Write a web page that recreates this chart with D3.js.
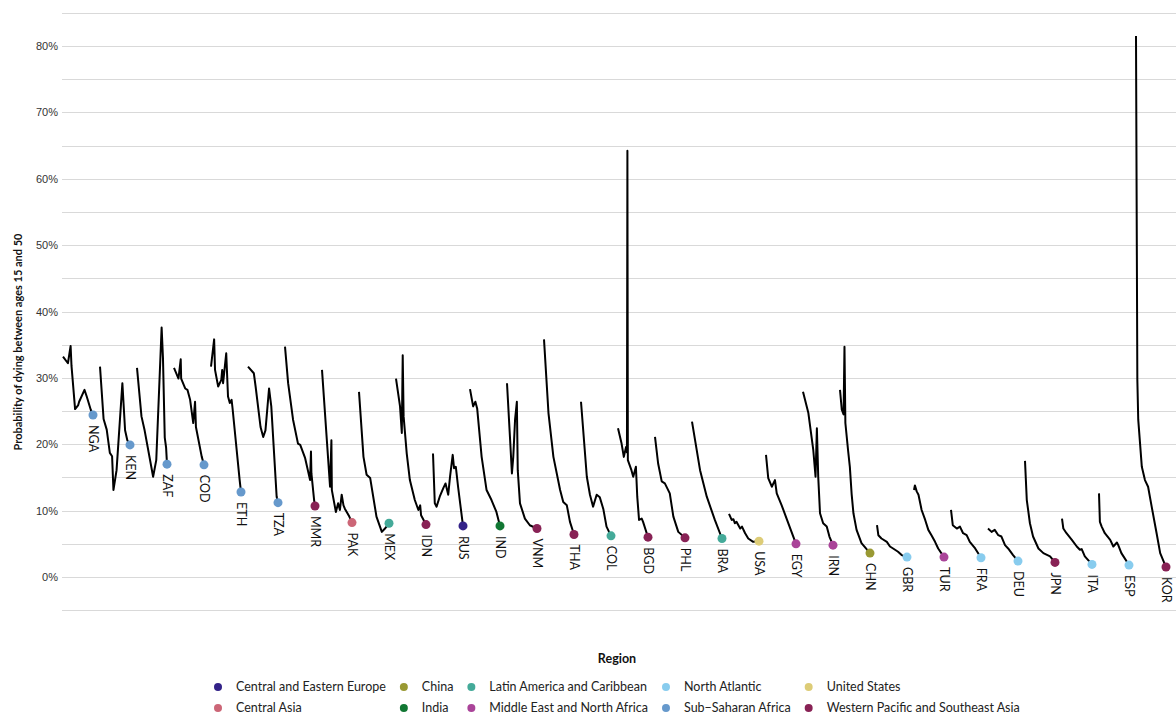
<!DOCTYPE html>
<html>
<meta charset="utf-8">
<head>
<style>
body { margin: 0; background: #fff; }
svg { font-family: Lato, "Open Sans", sans-serif; }
.grid line { stroke: #d9d9d9; stroke-width: 1; shape-rendering: crispEdges; }
.ytick { font-size: 11px; fill: #333; }
.ytitle { font-size: 11px; font-weight: bold; fill: #111; }
.cname { font-size: 12.5px; fill: #111; }
.legend text { font-size: 12.5px; fill: #222; }
.legend-title { font-size: 12.5px; font-weight: bold; fill: #111; }
</style>
</head>
<body>
<svg width="1176" height="720"></svg>

<script src="https://cdn.jsdelivr.net/npm/d3@7"></script>
<script>

// countries in chart order and the region each belongs to
var countries = ["NGA","KEN","ZAF","COD","ETH","TZA","MMR","PAK","MEX","IDN",
  "RUS","IND","VNM","THA","COL","BGD","PHL","BRA","USA","EGY",
  "IRN","CHN","GBR","TUR","FRA","DEU","JPN","ITA","ESP","KOR"];

var countryRegion = ["Sub-Saharan Africa","Sub-Saharan Africa","Sub-Saharan Africa","Sub-Saharan Africa",
  "Sub-Saharan Africa","Sub-Saharan Africa","Western Pacific and Southeast Asia","Central Asia",
  "Latin America and Caribbean","Western Pacific and Southeast Asia","Central and Eastern Europe","India",
  "Western Pacific and Southeast Asia","Western Pacific and Southeast Asia","Latin America and Caribbean",
  "Western Pacific and Southeast Asia","Western Pacific and Southeast Asia","Latin America and Caribbean",
  "United States","Middle East and North Africa","Middle East and North Africa","China","North Atlantic",
  "Middle East and North Africa","North Atlantic","North Atlantic","Western Pacific and Southeast Asia",
  "North Atlantic","North Atlantic","Western Pacific and Southeast Asia"];

var regions = ["Central and Eastern Europe","Central Asia","China","India","Latin America and Caribbean",
  "Middle East and North Africa","North Atlantic","Sub-Saharan Africa","United States",
  "Western Pacific and Southeast Asia"];
var regionLabels = ["Central and Eastern Europe","Central Asia","China","India","Latin America and Caribbean",
  "Middle East and North Africa","North Atlantic","Sub\u2212Saharan Africa","United States",
  "Western Pacific and Southeast Asia"];
var regionColors = ["#332288","#cc6677","#999933","#117733","#44aa99",
  "#aa4499","#88ccee","#6699cc","#ddcc77","#882255"];

// probability (%) of dying between 15 and 50, [year, value]
var nga = [[1950,33.2],[1961,32.2],[1967,34.8],[1969,31.8],[1977,25.3],[1984,25.9],[1986,26.4],[1998,28.2],[2003,27.2],[2012,25.2],[2017,24.4]];
var ken = [[1950,31.7],[1958,23.8],[1965,22.2],[1972,18.7],[1977,18.2],[1980,13.1],[1987,16.1],[2000,29.2],[2006,22.1],[2011,20.6],[2017,19.9]];
var zaf = [[1950,31.5],[1960,24.2],[1967,22.1],[1986,15.1],[1993,17.6],[2005,37.6],[2008,33.0],[2012,21.0],[2015,19.5],[2017,17.0]];
var cod = [[1950,31.5],[1960,29.9],[1965,32.8],[1966,29.9],[1975,28.4],[1980,28.2],[1986,26.7],[1993,23.2],[1997,26.4],[1999,22.6],[2012,18.1],[2017,16.9]];
var eth = [[1950,31.7],[1957,35.8],[1959,31.2],[1966,28.7],[1973,29.7],[1975,31.2],[1977,29.2],[1984,33.7],[1988,27.2],[1992,26.2],[1996,26.7],[1998,25.5],[2014,14.6],[2017,12.8]];
var tza = [[1950,31.7],[1963,30.7],[1967,28.7],[1978,22.6],[1984,21.1],[1989,22.1],[1997,28.4],[2002,25.7],[2014,12.1],[2017,11.2]];
var mmr = [[1950,34.7],[1957,29.2],[1968,23.7],[1979,20.1],[1984,19.9],[1995,17.9],[2006,14.6],[2008,18.9],[2009,15.6],[2015,11.6],[2017,10.7]];
var pak = [[1950,31.2],[1968,13.6],[1971,20.6],[1972,13.1],[1981,9.8],[1986,11.1],[1990,10.1],[1994,12.4],[1998,10.8],[2001,10.3],[2011,9.1],[2017,8.2]];
var mex = [[1950,27.9],[1960,18.1],[1967,15.4],[1975,14.9],[1989,9.1],[2001,6.8],[2008,7.3],[2017,8.1]];
var idn = [[1950,29.9],[1959,25.7],[1963,21.7],[1965,33.4],[1967,24.2],[1974,18.6],[1981,14.6],[1992,11.6],[2000,10.1],[2004,10.8],[2006,9.3],[2017,7.9]];
var rus = [[1950,18.6],[1954,11.1],[1958,10.6],[1965,12.1],[1973,13.4],[1978,14.1],[1984,12.4],[1988,15.1],[1994,18.4],[1997,16.4],[2001,16.6],[2006,13.6],[2017,7.7]];
var ind = [[1950,28.3],[1957,25.7],[1962,26.4],[1966,25.4],[1976,18.1],[1987,13.1],[1998,11.6],[2009,9.8],[2017,7.7]];
var vnm = [[1950,29.2],[1957,20.6],[1961,15.6],[1964,18.1],[1968,23.7],[1972,26.4],[1974,16.1],[1979,11.1],[1990,8.8],[2001,7.8],[2017,7.3]];
var tha = [[1950,35.8],[1960,24.7],[1971,18.1],[1986,13.1],[1993,11.3],[2001,10.8],[2008,8.3],[2017,6.4]];
var col = [[1950,26.4],[1963,15.1],[1970,12.4],[1977,10.6],[1985,12.4],[1992,12.0],[2000,10.2],[2007,7.6],[2017,6.2]];
var bgd = [[1950,22.4],[1958,20.1],[1963,18.1],[1968,19.6],[1970,18.8],[1971,64.2],[1972,17.6],[1980,16.1],[1984,15.1],[1990,16.6],[1993,12.1],[1997,8.6],[2003,8.8],[2006,8.3],[2017,6.0]];
var phl = [[1950,21.1],[1957,17.1],[1965,14.4],[1972,14.1],[1983,12.6],[1991,9.1],[2002,6.8],[2017,5.9]];
var bra = [[1950,23.4],[1968,16.1],[1983,12.1],[2001,8.6],[2017,5.8]];
var usa = [[1950,9.5],[1956,8.6],[1960,8.7],[1963,8.1],[1967,8.3],[1975,7.3],[1979,7.6],[1986,6.6],[1993,5.8],[2004,5.3],[2017,5.4]];
var egy = [[1950,18.4],[1955,14.9],[1963,13.6],[1970,14.6],[1974,12.6],[1985,10.8],[1996,8.8],[2007,6.8],[2017,5.0]];
var irn = [[1950,27.9],[1962,24.7],[1973,19.1],[1978,15.1],[1981,22.4],[1984,15.1],[1988,9.6],[1995,8.1],[2003,7.6],[2009,6.1],[2017,4.8]];
var chn = [[1950,28.2],[1954,25.2],[1958,24.5],[1960,34.7],[1962,23.2],[1968,19.1],[1972,16.6],[1976,12.5],[1980,9.6],[1987,7.1],[1998,5.1],[2017,3.6]];
var gbr = [[1950,7.8],[1953,6.3],[1960,5.8],[1972,5.3],[1979,4.6],[1986,4.3],[1997,3.8],[2005,3.3],[2017,3.0]];
var tur = [[1950,13.1],[1952,13.8],[1956,12.9],[1960,12.4],[1967,10.1],[1975,8.6],[1982,7.1],[1989,6.3],[1997,5.3],[2004,4.3],[2017,3.0]];
var fra = [[1950,10.1],[1954,7.8],[1963,7.3],[1970,7.6],[1977,6.6],[1985,6.3],[1992,5.3],[2004,4.3],[2017,2.9]];
var deu = [[1950,7.3],[1958,6.8],[1965,7.1],[1973,6.3],[1980,6.1],[1988,4.8],[1995,4.3],[2006,3.3],[2017,2.4]];
var jpn = [[1950,17.5],[1954,11.6],[1961,8.1],[1968,6.1],[1980,4.3],[1991,3.6],[2006,3.1],[2017,2.2]];
var ita = [[1950,8.8],[1953,7.3],[1960,6.6],[1972,5.6],[1983,4.6],[1990,4.1],[1994,4.2],[2001,3.1],[2017,1.9]];
var esp = [[1950,12.6],[1952,8.3],[1956,7.6],[1963,6.6],[1975,5.6],[1982,4.6],[1990,5.2],[1993,4.8],[2000,3.6],[2017,1.8]];
var kor = [[1950,81.5],[1953,29.7],[1955,23.7],[1963,16.6],[1970,14.6],[1977,13.6],[1985,10.6],[1996,6.6],[2004,3.6],[2017,1.5]];

var series = [nga,ken,zaf,cod,eth,tza,mmr,pak,mex,idn,rus,ind,vnm,tha,col,
  bgd,phl,bra,usa,egy,irn,chn,gbr,tur,fra,deu,jpn,ita,esp,kor];

var yTicks = [0,10,20,30,40,50,60,70,80];

var svg = d3.select("svg"),
  plotLeft = 62,
  plotRight = 1176;

var y = d3.scaleLinear().domain([-5, 85]).range([610.2, 12.8]);
var x = d3.scaleBand().domain(countries).range([63, 1166]).paddingInner(7 / 37);
var yr = d3.scaleLinear().domain([1950, 2017]).range([0, x.bandwidth()]);
var color = d3.scaleOrdinal().domain(regions).range(regionColors);

// gridlines every 5%
svg.append("g").attr("class", "grid")
  .selectAll("line")
  .data(d3.range(-5, 90, 5))
  .enter().append("line")
  .attr("x1", plotLeft).attr("x2", plotRight)
  .attr("y1", function(d) { return Math.round(y(d)) + 0.5; })
  .attr("y2", function(d) { return Math.round(y(d)) + 0.5; });

// y axis labels
var yAxis = d3.axisLeft(y).tickValues(yTicks).tickSize(0).tickPadding(4)
  .tickFormat(function(d) { return d + "%"; });
var yg = svg.append("g").attr("transform", "translate(" + plotLeft + ",0)").call(yAxis);
yg.select(".domain").remove();
yg.selectAll("text").attr("class", "ytick").attr("font-family", null).attr("font-size", null).attr("fill", null);

svg.append("text")
  .attr("class", "ytitle")
  .attr("transform", "translate(22,342) rotate(-90)")
  .attr("text-anchor", "middle")
  .text("Probability of dying between ages 15 and 50");

// one small line per country
var line = d3.line()
  .x(function(d) { return yr(d[0]); })
  .y(function(d) { return y(d[1]); });

var cell = svg.append("g").selectAll("g")
  .data(countries)
  .enter().append("g")
  .attr("transform", function(d) { return "translate(" + x(d) + ",0)"; });

cell.append("path")
  .attr("d", function(d, i) { return line(series[i]); })
  .attr("fill", "none")
  .attr("stroke", "#000")
  .attr("stroke-width", 2)
  .attr("stroke-linejoin", "round");

cell.append("circle")
  .attr("cx", function(d, i) { var s = series[i]; return yr(s[s.length - 1][0]); })
  .attr("cy", function(d, i) { var s = series[i]; return y(s[s.length - 1][1]); })
  .attr("r", 4.5)
  .attr("fill", function(d, i) { return color(countryRegion[i]); });

cell.append("text")
  .attr("class", "cname")
  .attr("transform", function(d, i) {
    var s = series[i], last = s[s.length - 1];
    return "translate(" + (yr(last[0]) - 4) + "," + (y(last[1]) + 10) + ") rotate(90)";
  })
  .text(function(d) { return d; });

// legend
svg.append("text")
  .attr("class", "legend-title")
  .attr("x", 617).attr("y", 663)
  .attr("text-anchor", "middle")
  .text("Region");

var legend = svg.append("g").attr("class", "legend");
var items = legend.selectAll("g")
  .data(regions)
  .enter().append("g");

items.append("circle")
  .attr("r", 4)
  .attr("fill", function(d) { return color(d); });
items.append("text")
  .attr("x", 18)
  .attr("dy", "0.35em")
  .text(function(d, i) { return regionLabels[i]; });

// column-major layout, two rows, first dot at x = 218
var colX = 218, colStarts = [];
for (var c = 0; c < regions.length / 2; c++) {
  colStarts.push(colX);
  var w = 0;
  items.filter(function(d, i) { return Math.floor(i / 2) === c; })
    .select("text").each(function() { w = Math.max(w, this.getComputedTextLength()); });
  colX += 18 + w + 18;
}
items.attr("transform", function(d, i) {
  return "translate(" + colStarts[Math.floor(i / 2)] + "," + (i % 2 ? 708 : 687) + ")";
});

</script>
</body>
</html>
